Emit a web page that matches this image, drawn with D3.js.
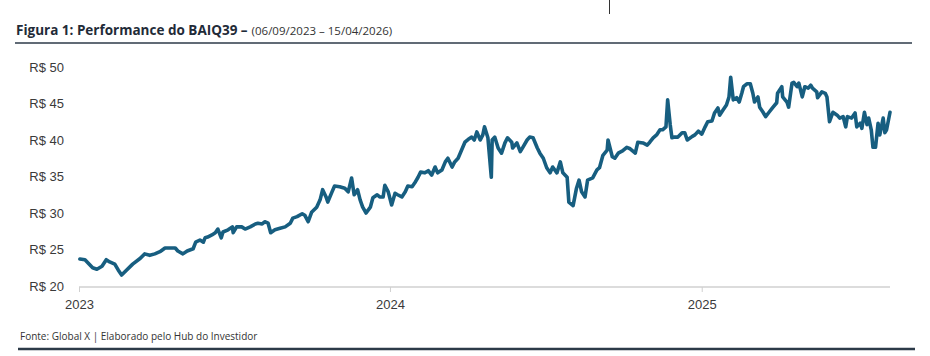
<!DOCTYPE html>
<html>
<head>
<meta charset="utf-8">
<script src="https://cdn.jsdelivr.net/npm/d3@7"></script>
<style>
  html, body { margin: 0; padding: 0; background: #ffffff; }
  svg { display: block; }
</style>
</head>
<body>
<svg id="chart" width="930" height="356"></svg>
<script>
// ---- data ----
const titleMain = "Figura 1: Performance do BAIQ39 \u2013";
const titleRange = "(06/09/2023 \u2013 15/04/2026)";
const sourceNote = "Fonte: Global X | Elaborado pelo Hub do Investidor";

// days counted from 01/01/2023 (axis start)
const days = [1,7,16,21,27,32,36,42,46,50,56,63,72,77,83,89,95,101,107,113,116,122,127,134,137,142,146,148,151,156,160,163,167,169,175,180,181,185,191,195,201,207,210,215,218,222,225,230,236,242,248,251,256,262,265,269,273,279,283,286,290,292,297,300,306,312,316,320,323,327,330,333,337,342,345,350,353,357,359,363,367,371,374,379,383,386,391,394,398,401,406,410,414,418,421,426,430,433,438,441,445,449,453,457,461,464,467,471,474,476,480,484,485,488,492,496,500,503,508,509,514,518,521,526,529,533,538,541,545,549,553,556,561,565,568,573,575,580,584,587,590,594,597,603,608,611,615,620,621,626,629,633,638,643,647,653,656,662,667,670,674,678,682,685,689,691,694,696,699,703,708,711,714,720,723,727,731,735,738,743,746,750,752,756,760,763,765,768,772,775,778,780,784,788,791,793,797,799,803,806,810,814,819,820,825,826,831,833,837,839,843,845,849,852,856,859,861,866,867,872,876,878,881,885,890,893,897,900,902,907,911,913,917,919,922,925,927,930,932,935,938,940,944,946,948,952];
const prices = [23.7,23.6,22.5,22.3,22.7,23.6,23.3,23.0,22.2,21.5,22.2,23.0,23.8,24.4,24.2,24.4,24.7,25.2,25.2,25.2,24.8,24.4,24.8,25.1,26.0,26.3,26.0,26.6,26.7,27.0,27.3,27.8,26.6,27.4,27.7,28.1,27.3,28.1,28.1,27.8,28.1,28.5,28.6,28.5,28.8,28.6,27.3,27.7,27.9,28.1,28.6,29.3,29.5,29.9,29.7,28.8,30.1,30.8,31.8,33.2,32.2,31.5,32.9,33.7,33.6,33.4,32.9,34.8,32.5,33.2,31.8,30.8,30.0,30.8,32.1,32.5,32.2,32.2,33.8,32.9,31.1,32.7,32.5,32.2,32.9,33.7,33.6,34.1,34.9,35.6,35.5,35.8,35.2,36.3,35.5,35.9,37.0,37.5,36.3,37.0,37.5,38.6,39.7,40.1,40.4,40.0,41.1,40.0,40.7,41.8,40.3,34.9,40.0,40.4,38.9,38.2,39.6,40.3,39.7,38.9,39.6,38.4,39.0,40.0,40.4,40.3,38.9,38.2,37.5,36.2,35.5,36.3,35.5,37.0,35.5,34.9,31.5,31.0,33.4,34.5,32.9,32.2,34.5,34.8,35.9,36.2,37.9,38.6,40.0,37.7,37.5,38.2,38.5,39.0,38.8,38.2,39.7,39.6,39.3,39.7,40.3,40.7,41.4,41.4,41.8,45.5,42.1,40.3,40.4,40.4,41.0,41.0,40.0,40.5,40.7,41.2,40.8,41.8,42.5,42.6,43.7,44.4,43.4,44.1,44.8,45.9,48.6,45.5,45.8,45.2,46.4,47.3,47.7,47.7,46.4,45.2,45.9,44.5,43.8,43.2,43.8,44.4,45.1,46.4,47.3,45.9,45.2,44.5,47.8,47.9,47.3,47.8,45.9,47.3,47.1,47.5,47.1,46.6,45.8,46.6,46.4,45.9,42.5,43.8,43.4,43.0,43.2,41.8,43.2,43.0,43.7,41.8,42.3,41.6,43.8,42.1,43.0,41.4,39.0,39.0,42.3,40.7,43.0,41.0,41.4,43.8];

const yTicks = [20, 25, 30, 35, 40, 45, 50];
const yearTicks = [2023, 2024, 2025];

// ---- drawing ----
const svg = d3.select("#chart");
const base = new Date(2023, 0, 1);
const toDate = d => d3.timeDay.offset(base, d);
const data = days.map((d, i) => ({ date: toDate(d), value: prices[i] }));

const x = d3.scaleTime()
  .domain([base, toDate(952)])
  .range([79, 890]);
const y = d3.scaleLinear().domain([20, 50]).range([286, 67]);

// title
const title = svg.append("text")
  .attr("x", 16).attr("y", 35)
  .attr("font-family", "'Open Sans', sans-serif")
  .attr("fill", "#1f2b38");
title.append("tspan").attr("font-size", 13.5).attr("font-weight", 700).text(titleMain);
title.append("tspan").attr("font-size", 11.5).attr("fill", "#333").attr("dx", 4).text(titleRange);

svg.append("line")
  .attr("x1", 15).attr("x2", 912).attr("y1", 43).attr("y2", 43)
  .attr("stroke", "#2c3a48").attr("stroke-width", 1.5);

// small mark at the top
svg.append("line")
  .attr("x1", 609.5).attr("x2", 609.5).attr("y1", 0).attr("y2", 14)
  .attr("stroke", "#333").attr("stroke-width", 1);

// y labels
svg.append("g").selectAll("text").data(yTicks).join("text")
  .attr("x", 64).attr("y", d => y(d))
  .attr("dy", "0.35em")
  .attr("text-anchor", "end")
  .attr("font-family", "'Liberation Sans', Arial, sans-serif")
  .attr("font-size", 13)
  .attr("fill", "#3a3a3a")
  .text(d => "R$ " + d);

// x axis
const xAxis = d3.axisBottom(x)
  .tickValues(yearTicks.map(yr => new Date(yr, 0, 1)))
  .tickFormat(d3.timeFormat("%Y"))
  .tickSize(5)
  .tickPadding(8);
const gx = svg.append("g").attr("transform", "translate(0,287)").call(xAxis);
gx.select(".domain").attr("stroke", "#dcdcdc").attr("stroke-width", 2).attr("d", `M${x.range()[0]},0H${x.range()[1]}`);
gx.selectAll(".tick line").attr("stroke", "#d0d0d0").attr("stroke-width", 1);
gx.selectAll(".tick text")
  .attr("font-family", "'Liberation Sans', Arial, sans-serif")
  .attr("font-size", 13)
  .attr("fill", "#3a3a3a");

// price line
svg.append("path")
  .datum(data)
  .attr("fill", "none")
  .attr("stroke", "#175e80")
  .attr("stroke-width", 3.6)
  .attr("stroke-linejoin", "round")
  .attr("stroke-linecap", "round")
  .attr("d", d3.line().x(d => x(d.date)).y(d => y(d.value)));

// footer
svg.append("text")
  .attr("x", 20).attr("y", 340)
  .attr("font-family", "'Open Sans', sans-serif")
  .attr("font-size", 10)
  .attr("fill", "#333")
  .text(sourceNote);

svg.append("line")
  .attr("x1", 18).attr("x2", 915).attr("y1", 349).attr("y2", 349)
  .attr("stroke", "#2c3a48").attr("stroke-width", 2.5);
</script>
</body>
</html>
